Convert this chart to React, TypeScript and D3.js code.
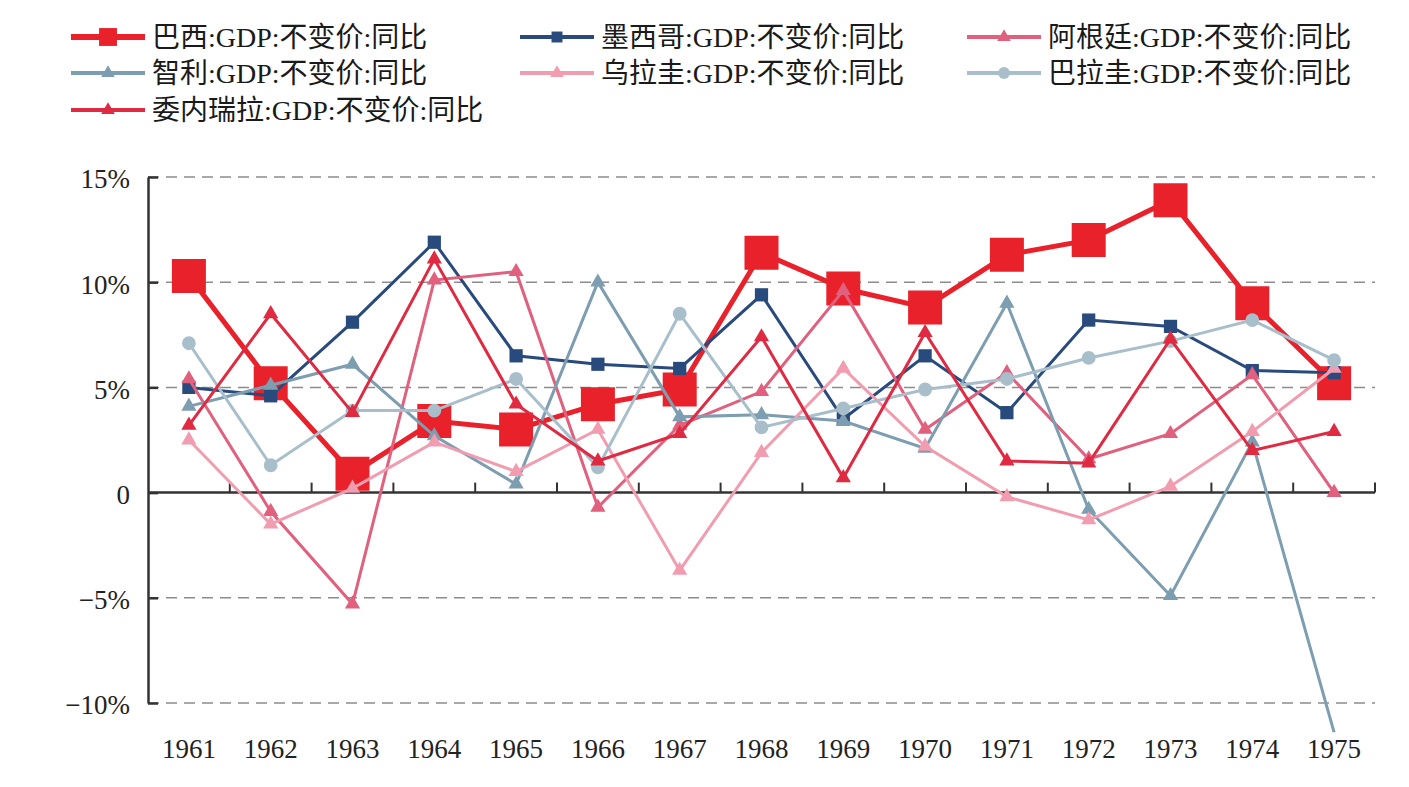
import { useEffect, useRef } from "react";
import * as d3 from "d3";

const years = [
  "1961", "1962", "1963", "1964", "1965", "1966", "1967", "1968",
  "1969", "1970", "1971", "1972", "1973", "1974", "1975",
];

// GDP constant-price YoY growth, %
const brazil = [10.3, 5.2, 0.9, 3.4, 3.0, 4.2, 4.9, 11.4, 9.7, 8.8, 11.3, 12.0, 13.9, 9.0, 5.2];
const mexico = [5.0, 4.6, 8.1, 11.9, 6.5, 6.1, 5.9, 9.4, 3.5, 6.5, 3.8, 8.2, 7.9, 5.8, 5.7];
const argentina = [5.4, -0.9, -5.3, 10.1, 10.5, -0.7, 3.2, 4.8, 9.6, 3.0, 5.7, 1.6, 2.8, 5.6, 0.0];
const chile = [4.1, 5.1, 6.1, 2.7, 0.4, 10.0, 3.6, 3.7, 3.4, 2.1, 9.0, -0.8, -4.9, 2.4, -11.4];
const uruguay = [2.5, -1.5, 0.2, 2.4, 1.0, 3.0, -3.7, 1.9, 5.9, 2.2, -0.2, -1.3, 0.3, 2.9, 5.9];
const paraguay = [7.1, 1.3, 3.9, 3.9, 5.4, 1.2, 8.5, 3.1, 4.0, 4.9, 5.4, 6.4, 7.2, 8.2, 6.3];
const venezuela = [3.2, 8.5, 3.8, 11.1, 4.2, 1.5, 2.8, 7.4, 0.7, 7.6, 1.5, 1.4, 7.3, 2.0, 2.9];

const yTicks = [-10, -5, 0, 5, 10, 15];

type Series = {
  name: string;
  values: number[];
  color: string;
  width: number;
  symbol: d3.SymbolType;
  size: number;
  legendSize: number;
};

const series: Series[] = [
  { name: "巴西:GDP:不变价:同比", values: brazil, color: "#e8212b", width: 5, symbol: d3.symbolSquare, size: 1156, legendSize: 320 },
  { name: "墨西哥:GDP:不变价:同比", values: mexico, color: "#284a7c", width: 3, symbol: d3.symbolSquare, size: 175, legendSize: 120 },
  { name: "阿根廷:GDP:不变价:同比", values: argentina, color: "#e0607e", width: 3, symbol: d3.symbolTriangle, size: 100, legendSize: 80 },
  { name: "智利:GDP:不变价:同比", values: chile, color: "#7d9db0", width: 3, symbol: d3.symbolTriangle, size: 100, legendSize: 80 },
  { name: "乌拉圭:GDP:不变价:同比", values: uruguay, color: "#f29cb0", width: 3, symbol: d3.symbolTriangle, size: 100, legendSize: 80 },
  { name: "巴拉圭:GDP:不变价:同比", values: paraguay, color: "#a8bfcb", width: 3, symbol: d3.symbolCircle, size: 150, legendSize: 110 },
  { name: "委内瑞拉:GDP:不变价:同比", values: venezuela, color: "#df2a42", width: 3, symbol: d3.symbolTriangle, size: 100, legendSize: 80 },
];

const FONT = "'Liberation Serif', 'Noto Sans CJK SC', serif";

function GdpChart() {
  const ref = useRef<SVGSVGElement>(null);

  useEffect(() => {
    const width = 1409;
    const height = 787;
    const svg = d3.select(ref.current).attr("width", width).attr("height", height);
    svg.selectAll("*").remove();

    const left = 148;
    const right = 1375;

    const x = d3.scaleBand<string>().domain(years).range([left, right]).padding(0);
    const y = d3.scaleLinear().domain([-10, 15]).range([703, 177]);
    const cx = (yr: string) => (x(yr) ?? 0) + x.bandwidth() / 2;

    // dashed gridlines
    svg
      .append("g")
      .selectAll("line")
      .data(yTicks.filter((t) => t !== 0))
      .enter()
      .append("line")
      .attr("x1", left)
      .attr("x2", right)
      .attr("y1", (d) => y(d))
      .attr("y2", (d) => y(d))
      .attr("stroke", "#8c8c8c")
      .attr("stroke-width", 1.5)
      .attr("stroke-dasharray", "11 7");

    // y axis with inward ticks
    const yAxis = d3
      .axisLeft(y)
      .tickValues(yTicks)
      .tickSizeInner(-10)
      .tickSizeOuter(0)
      .tickPadding(18)
      .tickFormat((d) => {
        const v = +d;
        if (v === 0) return "0";
        return `${v < 0 ? "−" : ""}${Math.abs(v)}%`;
      });
    const yg = svg.append("g").attr("transform", `translate(${left},0)`).call(yAxis);
    yg.select(".domain").attr("stroke", "#333").attr("stroke-width", 2.5);
    yg.selectAll(".tick line").attr("stroke", "#333").attr("stroke-width", 2.5);
    yg.selectAll(".tick text")
      .attr("fill", "#222")
      .attr("dy", "0.4em")
      .style("font-family", FONT)
      .style("font-size", "27px");

    // x axis along zero, ticks at band edges pointing up
    const y0 = y(0);
    const xg = svg.append("g");
    xg.append("line")
      .attr("x1", left)
      .attr("x2", right)
      .attr("y1", y0)
      .attr("y2", y0)
      .attr("stroke", "#333")
      .attr("stroke-width", 2.5);
    const edges = years.map((yr) => x(yr) ?? 0).concat([right]);
    xg.selectAll("line.tk")
      .data(edges.slice(1))
      .enter()
      .append("line")
      .attr("class", "tk")
      .attr("x1", (d) => d)
      .attr("x2", (d) => d)
      .attr("y1", y0)
      .attr("y2", y0 - 10)
      .attr("stroke", "#333")
      .attr("stroke-width", 2);
    xg.selectAll("text")
      .data(years)
      .enter()
      .append("text")
      .attr("x", (d) => cx(d))
      .attr("y", 758)
      .attr("text-anchor", "middle")
      .attr("fill", "#222")
      .style("font-family", FONT)
      .style("font-size", "27px")
      .text((d) => d);

    // plot clip: lines may run below the axis range
    const clipBottom = y(d3.min(chile) ?? -10);
    svg
      .append("clipPath")
      .attr("id", "plot-clip")
      .append("rect")
      .attr("x", 0)
      .attr("y", 0)
      .attr("width", width)
      .attr("height", clipBottom);

    const plot = svg.append("g").attr("clip-path", "url(#plot-clip)");
    const line = d3
      .line<number>()
      .x((_, i) => cx(years[i]))
      .y((d) => y(d));

    series.forEach((s) => {
      const g = plot.append("g");
      g.append("path")
        .attr("d", line(s.values))
        .attr("fill", "none")
        .attr("stroke", s.color)
        .attr("stroke-width", s.width)
        .attr("stroke-linejoin", "miter");
      g.selectAll("path.mk")
        .data(s.values.map((v, i) => ({ v, yr: years[i] })).filter((d) => d.v >= -10))
        .enter()
        .append("path")
        .attr("class", "mk")
        .attr("d", d3.symbol().type(s.symbol).size(s.size)())
        .attr("transform", (d) => `translate(${cx(d.yr)},${y(d.v)})`)
        .attr("fill", s.color);
    });

    // legend, three columns
    const colX = [71, 520, 967];
    const rowY = [37, 73, 110];
    const legend = svg.append("g");
    const items = legend
      .selectAll("g")
      .data(series)
      .enter()
      .append("g")
      .attr("transform", (_, i) => `translate(${colX[i % 3]},${rowY[Math.floor(i / 3)]})`);
    items
      .append("line")
      .attr("x1", 0)
      .attr("x2", 74)
      .attr("y1", 0)
      .attr("y2", 0)
      .attr("stroke", (d) => d.color)
      .attr("stroke-width", (d) => d.width + 1);
    items
      .append("path")
      .attr("d", (d) => d3.symbol().type(d.symbol).size(d.legendSize)())
      .attr("transform", "translate(37,0)")
      .attr("fill", (d) => d.color);
    items
      .append("text")
      .attr("x", 81)
      .attr("y", 0)
      .attr("dy", "0.36em")
      .attr("fill", "#1a1a1a")
      .style("font-family", FONT)
      .style("font-size", "28px")
      .text((d) => d.name);
  }, []);

  return <svg ref={ref} style={{ display: "block" }}></svg>;
}

export default function App() {
  return (
    <div style={{ position: "absolute", left: 0, top: 0, background: "#fff" }}>
      <GdpChart />
    </div>
  );
}
